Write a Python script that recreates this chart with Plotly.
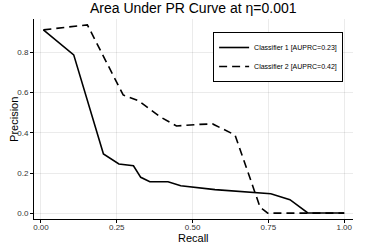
import plotly.graph_objects as go

recall_1 = [0.008, 0.108, 0.206, 0.257, 0.305, 0.329, 0.359, 0.419, 0.461, 0.502, 0.574, 0.758, 0.821, 0.880, 1.0]
precision_1 = [0.911, 0.787, 0.295, 0.245, 0.236, 0.179, 0.157, 0.157, 0.137, 0.129, 0.118, 0.097, 0.068, 0.002, 0.002]

recall_2 = [0.008, 0.153, 0.271, 0.321, 0.392, 0.447, 0.524, 0.566, 0.640, 0.722, 0.733, 0.748, 1.0]
precision_2 = [0.911, 0.936, 0.588, 0.560, 0.480, 0.434, 0.442, 0.444, 0.389, 0.033, 0.018, 0.001, 0.001]

label_1 = "Classifier 1 [AUPRC=0.23]"
label_2 = "Classifier 2 [AUPRC=0.42]"

x_ticks = [0.0, 0.25, 0.5, 0.75, 1.0]
x_tick_text = ["0.00", "0.25", "0.50", "0.75", "1.00"]
y_ticks = [0.0, 0.2, 0.4, 0.6, 0.8]
y_tick_text = ["0.0", "0.2", "0.4", "0.6", "0.8"]

FONT = "Liberation Sans, Arial, sans-serif"

fig = go.Figure()
fig.add_trace(go.Scatter(x=recall_1, y=precision_1, mode="lines", name=label_1,
                         line=dict(color="black", width=1.6, dash="solid")))
fig.add_trace(go.Scatter(x=recall_2, y=precision_2, mode="lines", name=label_2,
                         line=dict(color="black", width=1.6, dash="8px,5px")))

axis_common = dict(
    showgrid=True, gridcolor="rgba(0,0,0,0.08)", gridwidth=0.5,
    showline=True, linecolor="black", linewidth=1,
    ticks="outside", ticklen=3, tickcolor="black", tickwidth=1,
    zeroline=False, tickfont=dict(family=FONT, size=8, color="#333"),
    mirror=False, automargin=False,
)

fig.update_layout(
    width=366, height=244,
    margin=dict(l=34, r=13, t=19, b=25),
    paper_bgcolor="white", plot_bgcolor="white",
    title=dict(text="Area Under PR Curve at η=0.001", x=0.528, xanchor="center",
               y=0.968, yanchor="middle", font=dict(family=FONT, size=14, color="black")),
    xaxis=dict(range=[-0.023, 1.029], tickvals=x_ticks, ticktext=x_tick_text,
               ticklabelstandoff=-3, **axis_common),
    yaxis=dict(range=[-0.028, 0.965], tickvals=y_ticks, ticktext=y_tick_text, **axis_common),
    legend=dict(x=0.969, y=0.935, xanchor="right", yanchor="top",
                bgcolor="white", bordercolor="black", borderwidth=1,
                font=dict(family=FONT, size=7, color="black"),
                tracegroupgap=0, itemwidth=30),
    showlegend=True,
    annotations=[
        dict(text="Recall", xref="paper", yref="paper", x=0.5, y=-0.095,
             xanchor="center", yanchor="middle", showarrow=False,
             font=dict(family=FONT, size=11, color="black")),
        dict(text="Precision", xref="paper", yref="paper", x=-0.063, y=0.5,
             xanchor="center", yanchor="middle", showarrow=False, textangle=-90,
             font=dict(family=FONT, size=11, color="black")),
    ],
)

fig.write_html("out.html", config={"displayModeBar": False},
               post_script="document.body.style.margin='0px';")
